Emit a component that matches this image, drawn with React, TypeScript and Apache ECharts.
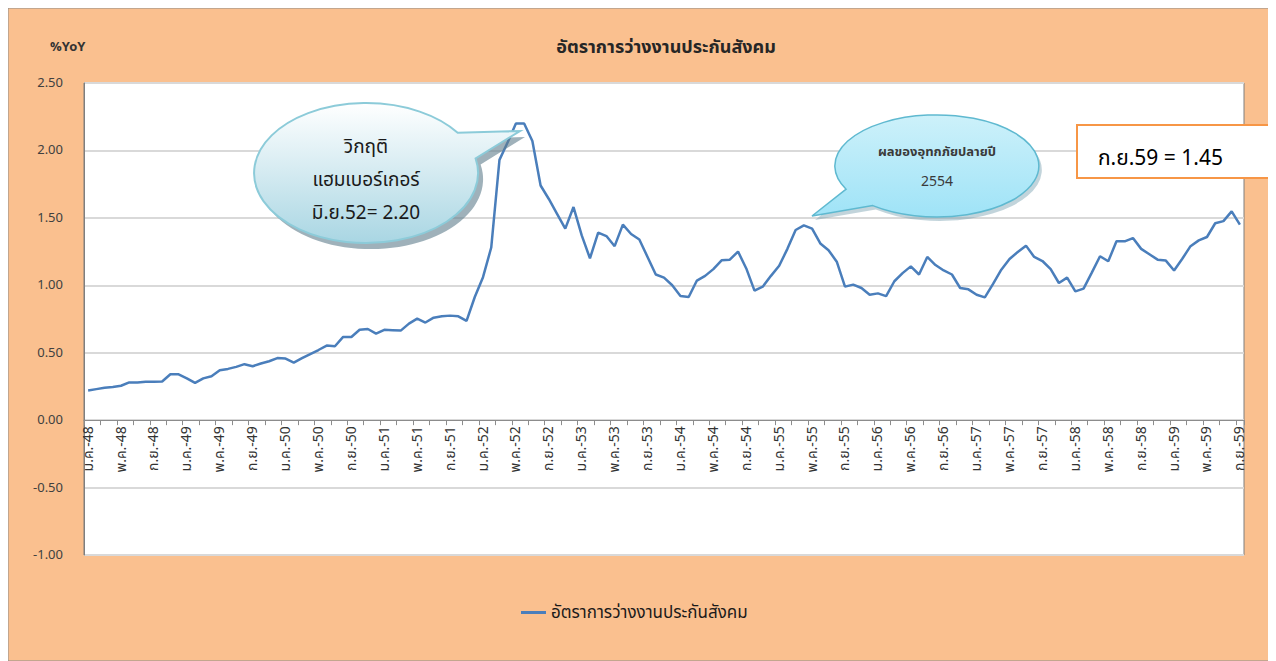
import React, { useEffect, useRef } from "react";
import * as echarts from "echarts";

const monthNames = ["ม.ค.", "ก.พ.", "มี.ค.", "เม.ย.", "พ.ค.", "มิ.ย.", "ก.ค.", "ส.ค.", "ก.ย.", "ต.ค.", "พ.ย.", "ธ.ค."];
const yearLabels = [48, 49, 50, 51, 52, 53, 54, 55, 56, 57, 58, 59];
const lastYearMonths = 9;

const seriesName = "อัตราการว่างงานประกันสังคม";
const unemploymentRate = [
  0.22, 0.23, 0.24, 0.245, 0.255, 0.28, 0.28, 0.285, 0.285, 0.287, 0.34, 0.34,
  0.31, 0.276, 0.31, 0.326, 0.37, 0.38, 0.395, 0.415, 0.4, 0.42, 0.437, 0.46,
  0.457, 0.427, 0.46, 0.49, 0.52, 0.553, 0.548, 0.617, 0.617, 0.67, 0.676, 0.642,
  0.67, 0.667, 0.664, 0.716, 0.753, 0.724, 0.76, 0.77, 0.775, 0.77, 0.736, 0.913,
  1.06, 1.28, 1.93, 2.06, 2.2, 2.2, 2.07, 1.74, 1.64, 1.53, 1.42, 1.58,
  1.37, 1.2, 1.39, 1.365, 1.29, 1.45, 1.38, 1.34, 1.21, 1.08, 1.057, 1.0,
  0.92, 0.913, 1.035, 1.07, 1.12, 1.185, 1.19, 1.25, 1.125, 0.96, 0.99, 1.07,
  1.145, 1.27, 1.41, 1.444, 1.42, 1.31, 1.26, 1.175, 0.99, 1.005, 0.98, 0.93,
  0.94, 0.92, 1.03, 1.09, 1.14, 1.08, 1.21, 1.15, 1.11, 1.08, 0.98, 0.97,
  0.93, 0.91, 1.01, 1.116, 1.195, 1.247, 1.294, 1.21, 1.18, 1.12, 1.017, 1.057,
  0.955, 0.975, 1.094, 1.215, 1.178, 1.326, 1.326, 1.35, 1.27, 1.23, 1.19, 1.183,
  1.11, 1.197, 1.29, 1.333, 1.358, 1.46, 1.476, 1.548, 1.45,
];

const yTicks = { min: -1, max: 2.5, interval: 0.5 };

const titleText = "อัตราการว่างงานประกันสังคม";
const unitText = "%YoY";
const note1Lines = ["วิกฤติ", "แฮมเบอร์เกอร์", "มิ.ย.52= 2.20"];
const note2Lines = ["ผลของอุทกภัยปลายปี", "2554"];
const note3Text = "ก.ย.59 = 1.45";

const categories: string[] = [];
yearLabels.forEach((y, yi) => {
  const n = yi === yearLabels.length - 1 ? lastYearMonths : 12;
  for (let m = 0; m < n; m++) categories.push(`${monthNames[m]}-${y}`);
});

const FONT = "Tahoma, 'Noto Sans Thai', 'Leelawadee UI', 'Noto Sans', 'DejaVu Sans', sans-serif";

// plot geometry (chart coords)
const GRID_TOP = 75;
const GRID_BOTTOM = 106;
const CHART_H = 653;
const PLOT_H = CHART_H - GRID_TOP - GRID_BOTTOM;
// distance from plot bottom (value min) to the zero line
const zeroOffset = (PLOT_H * (0 - yTicks.min)) / (yTicks.max - yTicks.min);

function bubblePath(cx: number, cy: number, rx: number, ry: number, aDeg: number, bDeg: number, tx: number, ty: number) {
  const a = (aDeg * Math.PI) / 180;
  const b = (bDeg * Math.PI) / 180;
  const pa = [cx + rx * Math.cos(a), cy + ry * Math.sin(a)];
  const pb = [cx + rx * Math.cos(b), cy + ry * Math.sin(b)];
  return `M${pa[0].toFixed(1)} ${pa[1].toFixed(1)} L${tx} ${ty} L${pb[0].toFixed(1)} ${pb[1].toFixed(1)} A${rx} ${ry} 0 1 1 ${pa[0].toFixed(1)} ${pa[1].toFixed(1)} Z`;
}

// chart coords = page coords - 8
const B1 = bubblePath(358, 165, 112, 70, -35, -12, 512, 123);
const B2 = bubblePath(929, 158, 102, 51, 129, 153, 804, 208);

let registered = false;
function registerShapes() {
  if (registered) return;
  registered = true;
  echarts.graphic.registerShape("bubbleHamburger", echarts.graphic.extendPath(B1, {}) as any);
  echarts.graphic.registerShape("bubbleFlood", echarts.graphic.extendPath(B2, {}) as any);
}

export default function App() {
  const ref = useRef<HTMLDivElement>(null);
  useEffect(() => {
    if (!ref.current) return;
    registerShapes();
    const chart = echarts.init(ref.current, undefined, { renderer: "svg" });
    const option: any = {
      animation: false,
      backgroundColor: "#FAC08F",
      textStyle: { fontFamily: FONT },
      grid: {
        left: 76,
        top: GRID_TOP,
        right: 26,
        bottom: GRID_BOTTOM,
        show: true,
        backgroundColor: "#ffffff",
        borderColor: "#7f7f7f",
        borderWidth: 1,
      },
      legend: {
        data: [{ name: seriesName, icon: "rect" }],
        left: 508,
        top: 591,
        itemWidth: 25,
        itemHeight: 3,
        itemGap: 5,
        textStyle: { fontFamily: FONT, fontSize: 17, color: "#1a1a1a" },
      },
      xAxis: {
        type: "category",
        data: categories,
        boundaryGap: true,
        position: "bottom",
        offset: -zeroOffset,
        axisLine: { onZero: false, lineStyle: { color: "#8c8c8c", width: 1 } },
        axisTick: { show: true, interval: 1, length: 5, lineStyle: { color: "#8c8c8c" } },
        axisLabel: {
          interval: 3,
          rotate: 90,
          margin: 6,
          fontSize: 14,
          color: "#333333",
          fontFamily: FONT,
        },
        splitLine: { show: false },
      },
      yAxis: {
        type: "value",
        min: yTicks.min,
        max: yTicks.max,
        interval: yTicks.interval,
        axisLine: { show: true, lineStyle: { color: "#7f7f7f" } },
        axisTick: { show: false },
        axisLabel: {
          margin: 21,
          fontSize: 13,
          color: "#404040",
          fontFamily: FONT,
          formatter: (v: number) => v.toFixed(2),
        },
        splitLine: { show: true, lineStyle: { color: "#d9d9d9", width: 2 } },
      },
      series: [
        {
          name: seriesName,
          type: "line",
          data: unemploymentRate,
          showSymbol: false,
          symbol: "none",
          lineStyle: { color: "#4a7ebb", width: 2.5 },
          itemStyle: { color: "#4a7ebb" },
        },
      ],
      graphic: [
        {
          type: "rect",
          shape: { x: 0, y: 0, width: 1262, height: 653 },
          style: { fill: "none", stroke: "#8c8c8c", lineWidth: 1 },
          silent: true,
        },
        {
          type: "text",
          x: 658,
          y: 39,
          style: { text: titleText, fontFamily: FONT, fontSize: 18, fontWeight: "bold", fill: "#262626", textAlign: "center", textVerticalAlign: "middle" },
        },
        {
          type: "text",
          x: 42,
          y: 39,
          style: { text: unitText, fontFamily: FONT, fontSize: 13, fontWeight: "bold", fill: "#333333", textAlign: "left", textVerticalAlign: "middle" },
        },
        // bubble 1 (shadow + body)
        {
          type: "bubbleHamburger",
          x: 5,
          y: 6,
          style: { fill: "rgba(95,125,140,0.6)", stroke: "none" },
          z: 10,
        },
        {
          type: "bubbleHamburger",
          x: 0,
          y: 0,
          style: {
            fill: {
              type: "linear",
              x: 0,
              y: 0,
              x2: 0,
              y2: 1,
              colorStops: [
                { offset: 0, color: "#ffffff" },
                { offset: 1, color: "#a9d6e3" },
              ],
            },
            stroke: "#8ccbd9",
            lineWidth: 2,
          },
          z: 11,
        },
        ...note1Lines.map((t, i) => ({
          type: "text",
          x: 358,
          y: 139 + i * 33,
          z: 12,
          style: { text: t, fontFamily: FONT, fontSize: 19, fill: "#1a1a1a", textAlign: "center", textVerticalAlign: "middle" },
        })),
        // bubble 2
        {
          type: "bubbleFlood",
          x: 3,
          y: 4,
          style: { fill: "rgba(120,160,175,0.45)", stroke: "none" },
          z: 10,
        },
        {
          type: "bubbleFlood",
          x: 0,
          y: 0,
          style: {
            fill: {
              type: "linear",
              x: 0,
              y: 0,
              x2: 0,
              y2: 1,
              colorStops: [
                { offset: 0, color: "#cdf1fa" },
                { offset: 1, color: "#9fe3f7" },
              ],
            },
            stroke: "#5fb9d0",
            lineWidth: 1.5,
          },
          z: 11,
        },
        ...note2Lines.map((t, i) => ({
          type: "text",
          x: 929,
          y: 144 + i * 29,
          z: 12,
          style: { text: t, fontFamily: FONT, fontSize: i === 0 ? 13 : 14, fontWeight: i === 0 ? "bold" : "normal", fill: "#3a3a3a", textAlign: "center", textVerticalAlign: "middle" },
        })),
        // box
        {
          type: "rect",
          shape: { x: 1069, y: 117, width: 192, height: 53 },
          style: { fill: "#ffffff", stroke: "#F79646", lineWidth: 2 },
          z: 11,
        },
        {
          type: "text",
          x: 1090,
          y: 150,
          z: 12,
          style: { text: note3Text, fontFamily: FONT, fontSize: 21, fill: "#000000", textAlign: "left", textVerticalAlign: "middle" },
        },
      ],
    };
    chart.setOption(option);
    return () => chart.dispose();
  }, []);
  return <div ref={ref} style={{ width: 1262, height: 653 }} />;
}
